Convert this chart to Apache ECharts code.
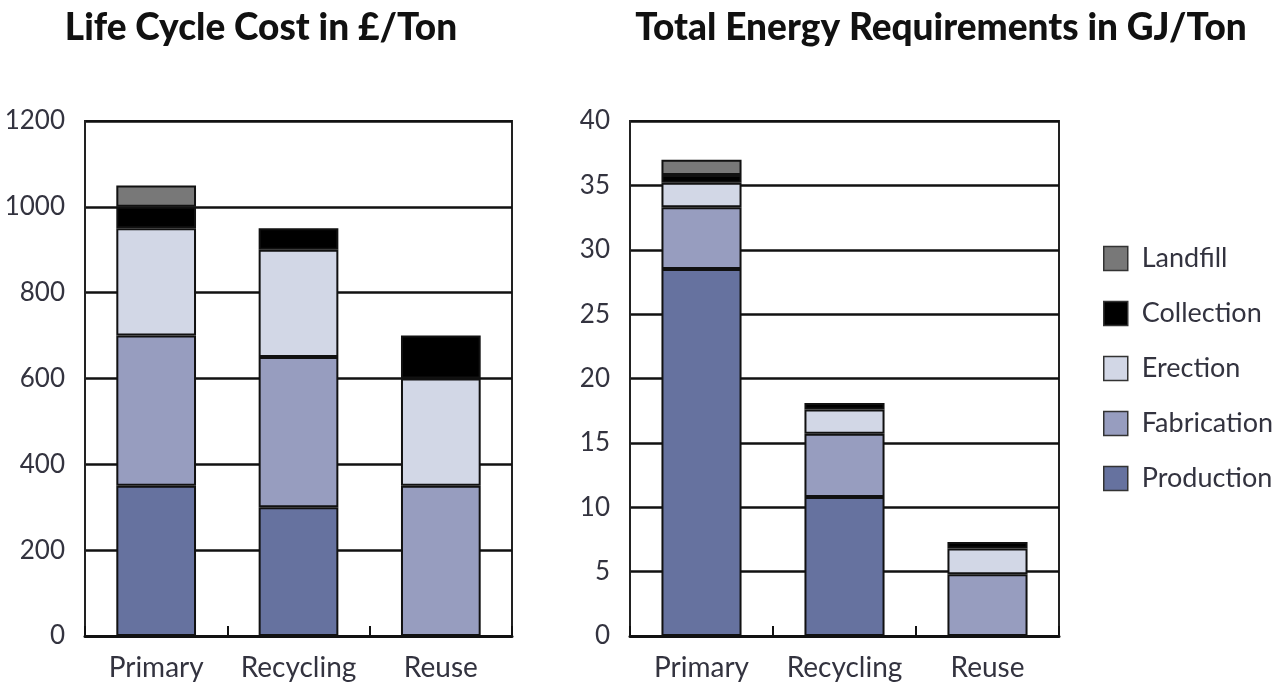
<!DOCTYPE html>
<html>
<head>
<meta charset="utf-8">
<title>Life Cycle Cost and Energy Requirements</title>
<script src="https://cdn.jsdelivr.net/npm/echarts@6/dist/echarts.min.js"></script>
<style>
  html, body { margin: 0; padding: 0; background: #ffffff; }
  #chart { width: 1282px; height: 687px; }
</style>
</head>
<body>
<div id="chart"></div>
<script>
// Categories of steel end-of-life route
const categories = ['Primary', 'Recycling', 'Reuse'];

// Life cycle cost, £/Ton, per stage
const costProduction  = [350, 300, 0];
const costFabrication = [350, 350, 350];
const costErection    = [250, 250, 250];
const costCollection  = [50, 50, 100];
const costLandfill    = [50, 0, 0];

// Total energy requirements, GJ/Ton, per stage
const energyProduction  = [28.5, 10.8, 0];
const energyFabrication = [4.8, 4.9, 4.8];
const energyErection    = [1.9, 1.9, 2.0];
const energyCollection  = [0.6, 0.5, 0.5];
const energyLandfill    = [1.2, 0, 0];

// Axis tick settings
const costTicks   = { min: 0, max: 1200, interval: 200 };
const energyTicks = { min: 0, max: 40, interval: 5 };

const stageNames  = ['Production', 'Fabrication', 'Erection', 'Collection', 'Landfill'];
const stageColors = ['#66729f', '#979dbf', '#d2d7e6', '#000000', '#787878'];
const costData    = [costProduction, costFabrication, costErection, costCollection, costLandfill];
const energyData  = [energyProduction, energyFabrication, energyErection, energyCollection, energyLandfill];

const fontFamily = 'Lato, "Open Sans", sans-serif';
const textColor = '#33333f';

function makeXAxis(gridIndex) {
  return {
    type: 'category',
    gridIndex: gridIndex,
    data: categories,
    axisLine: { show: true, lineStyle: { color: '#111', width: 3 } },
    axisTick: { show: true, inside: true, length: 10, lineStyle: { color: '#111', width: 2 } },
    axisLabel: { interval: 0, color: textColor, fontFamily: fontFamily, fontSize: 28, margin: 18 },
    z: 5
  };
}

function makeYAxis(gridIndex, ticks) {
  return {
    type: 'value',
    gridIndex: gridIndex,
    min: ticks.min,
    max: ticks.max,
    interval: ticks.interval,
    axisLine: { show: true, lineStyle: { color: '#222', width: 2 } },
    axisTick: { show: false },
    axisLabel: {
      color: textColor, fontFamily: fontFamily, fontSize: 26, margin: 20,
      formatter: function (v) { return String(v); }
    },
    splitLine: { show: true, lineStyle: { color: '#111', width: 2.5 } }
  };
}

function makeSeries(data, axisIndex, stackName) {
  return stageNames.map(function (name, i) {
    return {
      name: name,
      type: 'bar',
      stack: stackName,
      xAxisIndex: axisIndex,
      yAxisIndex: axisIndex,
      barWidth: '56%',
      data: data[i].map(function (v) { return v === 0 ? '-' : v; }),
      itemStyle: { color: stageColors[i], borderColor: '#111', borderWidth: 2 },
      emphasis: { disabled: true }
    };
  });
}

const chart = echarts.init(document.getElementById('chart'), null, { renderer: 'canvas' });

chart.setOption({
  animation: false,
  backgroundColor: '#ffffff',
  graphic: [
    {
      type: 'text', x: 261, y: 28,
      style: {
        text: 'Life Cycle Cost in £/Ton',
        fill: '#111', align: 'center', verticalAlign: 'middle',
        font: '900 37px ' + fontFamily
      }
    },
    {
      type: 'text', x: 941, y: 28,
      style: {
        text: 'Total Energy Requirements in GJ/Ton',
        fill: '#111', align: 'center', verticalAlign: 'middle',
        font: '900 37px ' + fontFamily
      }
    }
  ],
  legend: {
    orient: 'vertical',
    left: 1098,
    top: 240,
    itemWidth: 24,
    itemHeight: 24,
    itemGap: 28,
    icon: 'rect',
    data: ['Landfill', 'Collection', 'Erection', 'Fabrication', 'Production'],
    textStyle: { color: textColor, fontFamily: fontFamily, fontSize: 27, padding: [0, 0, 0, 9] },
    itemStyle: { borderColor: '#333', borderWidth: 1.5 }
  },
  grid: [
    { left: 85, width: 427, top: 121, bottom: 51, show: true, borderColor: '#222', borderWidth: 2, backgroundColor: 'transparent' },
    { left: 630, width: 429, top: 121, bottom: 51, show: true, borderColor: '#222', borderWidth: 2, backgroundColor: 'transparent' }
  ],
  xAxis: [makeXAxis(0), makeXAxis(1)],
  yAxis: [makeYAxis(0, costTicks), makeYAxis(1, energyTicks)],
  series: makeSeries(costData, 0, 'cost').concat(makeSeries(energyData, 1, 'energy'))
});
</script>
</body>
</html>
